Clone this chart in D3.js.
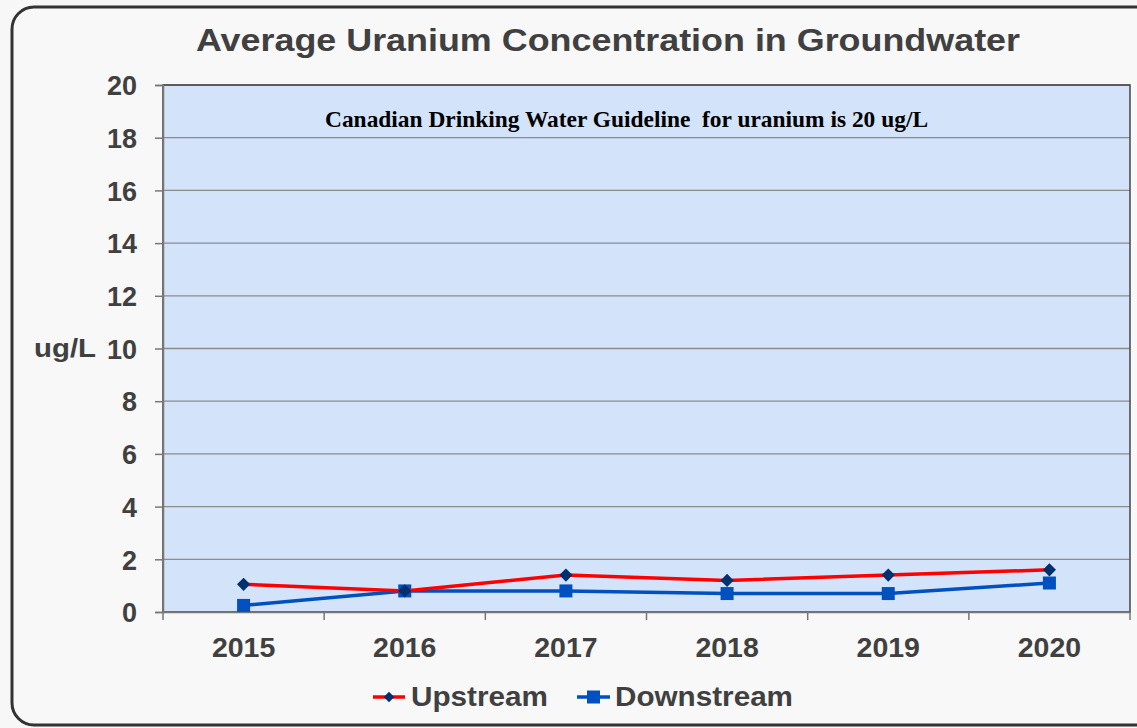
<!DOCTYPE html>
<html>
<head>
<meta charset="utf-8">
<script src="https://cdn.jsdelivr.net/npm/d3@7"></script>
<style>
  body { margin:0; background:#f7f7f7; }
  text { font-family:"Liberation Sans", Arial, sans-serif; font-weight:bold; fill:#404040; }
</style>
</head>
<body>
<div id="chart-container"></div>
<script>
// data
const years = ["2015","2016","2017","2018","2019","2020"];
const upstream = [1.05, 0.8, 1.4, 1.2, 1.4, 1.6];
const downstream = [0.25, 0.8, 0.8, 0.7, 0.7, 1.1];
const yTicks = [0,2,4,6,8,10,12,14,16,18,20];

const W = 1137, H = 728;
const margin = {top:85, right:7, bottom:116, left:163};
const width = W - margin.left - margin.right;
const height = H - margin.top - margin.bottom;

const x = d3.scaleBand().domain(years).range([0,width]);
const y = d3.scaleLinear().domain([0,20]).range([height,0]);

const root = d3.select("#chart-container")
  .append("svg")
  .attr("width",W)
  .attr("height",H);

// outer frame
root.append("rect")
  .attr("x",12).attr("y",7)
  .attr("width",1160).attr("height",718)
  .attr("rx",22)
  .attr("fill","#f8f8f8")
  .attr("stroke","#333")
  .attr("stroke-width",3);

// title
root.append("text")
  .attr("x",196).attr("y",51)
  .attr("textLength",824).attr("lengthAdjust","spacingAndGlyphs")
  .style("font-size","32px")
  .text("Average Uranium Concentration in Groundwater");

const svg = root.append("g")
  .attr("transform",`translate(${margin.left},${margin.top})`);

// plot background
svg.append("rect")
  .attr("width",width).attr("height",height)
  .attr("fill","#d3e3f9");

// gridlines
svg.selectAll(".grid")
  .data(yTicks.slice(1))
  .join("line")
  .attr("x1",0).attr("x2",width)
  .attr("y1",d => y(d)).attr("y2",d => y(d))
  .attr("stroke","#8c8c8c")
  .attr("stroke-width",1.3);

svg.append("rect")
  .attr("width",width).attr("height",height)
  .attr("fill","none")
  .attr("stroke","#444")
  .attr("stroke-width",1.5);

// y axis
const yAxis = svg.append("g")
  .call(d3.axisLeft(y).tickValues(yTicks).tickSize(8).tickPadding(18));
yAxis.select(".domain").attr("stroke","#777").attr("stroke-width",1.5);
yAxis.selectAll(".tick line").attr("stroke","#777").attr("stroke-width",1.5);
yAxis.selectAll("text")
  .attr("fill","#404040")
  .style("font-family","Liberation Sans, Arial, sans-serif")
  .style("font-weight","bold")
  .style("font-size","27px")
  .attr("dy","0.36em");

// x axis (ticks between categories)
const xAxis = svg.append("g")
  .attr("transform",`translate(0,${height})`)
  .call(d3.axisBottom(x).tickSize(0).tickPadding(25));
xAxis.select(".domain").attr("stroke","#777").attr("stroke-width",1.5);
xAxis.selectAll("text")
  .attr("fill","#404040")
  .style("font-family","Liberation Sans, Arial, sans-serif")
  .style("font-weight","bold")
  .style("font-size","28.5px");
xAxis.selectAll(".sep")
  .data(d3.range(years.length + 1))
  .join("line")
  .attr("x1",i => i * x.step()).attr("x2",i => i * x.step())
  .attr("y1",0).attr("y2",8)
  .attr("stroke","#777").attr("stroke-width",1.5);

// y label
root.append("text")
  .attr("x",34).attr("y",357)
  .attr("textLength",62).attr("lengthAdjust","spacingAndGlyphs")
  .style("font-size","26px")
  .text("ug/L");

// note
svg.append("text")
  .attr("x",162).attr("y",42)
  .attr("textLength",603).attr("lengthAdjust","spacingAndGlyphs")
  .style("font-family","Liberation Serif, 'Times New Roman', serif")
  .style("font-size","22.5px")
  .style("fill","#000")
  .attr("xml:space","preserve")
  .text("Canadian Drinking Water Guideline  for uranium is 20 ug/L");

const cx = d => x(d) + x.bandwidth()/2;
const line = d3.line().x(d => cx(d[0])).y(d => y(d[1]));

// downstream
svg.append("path")
  .datum(d3.zip(years, downstream))
  .attr("fill","none").attr("stroke","#0050bf").attr("stroke-width",3.5)
  .attr("d",line);
svg.selectAll(".sq")
  .data(d3.zip(years, downstream))
  .join("rect")
  .attr("x",d => cx(d[0]) - 6.5).attr("y",d => y(d[1]) - 6.5)
  .attr("width",13).attr("height",13)
  .attr("fill","#0050bf");

// upstream
svg.append("path")
  .datum(d3.zip(years, upstream))
  .attr("fill","none").attr("stroke","#ff0000").attr("stroke-width",3.5)
  .attr("d",line);
svg.selectAll(".dm")
  .data(d3.zip(years, upstream))
  .join("path")
  .attr("d",d3.symbol(d3.symbolDiamond2, 110))
  .attr("transform",d => `translate(${cx(d[0])},${y(d[1])})`)
  .attr("fill","#00306e");

// legend
const leg = root.append("g").attr("transform","translate(0,697)");
leg.append("line").attr("x1",373).attr("x2",405).attr("y1",0).attr("y2",0)
  .attr("stroke","#ff0000").attr("stroke-width",3.5);
leg.append("path").attr("d",d3.symbol(d3.symbolDiamond2, 70))
  .attr("transform","translate(389,0)").attr("fill","#00306e");
leg.append("text").attr("x",411).attr("y",9)
  .attr("textLength",137).attr("lengthAdjust","spacingAndGlyphs")
  .style("font-size","27px").text("Upstream");
leg.append("line").attr("x1",577).attr("x2",610).attr("y1",0).attr("y2",0)
  .attr("stroke","#0050bf").attr("stroke-width",3.5);
leg.append("rect").attr("x",587).attr("y",-6.5).attr("width",13).attr("height",13)
  .attr("fill","#0050bf");
leg.append("text").attr("x",615).attr("y",9)
  .attr("textLength",178).attr("lengthAdjust","spacingAndGlyphs")
  .style("font-size","27px").text("Downstream");
</script>
</body>
</html>
